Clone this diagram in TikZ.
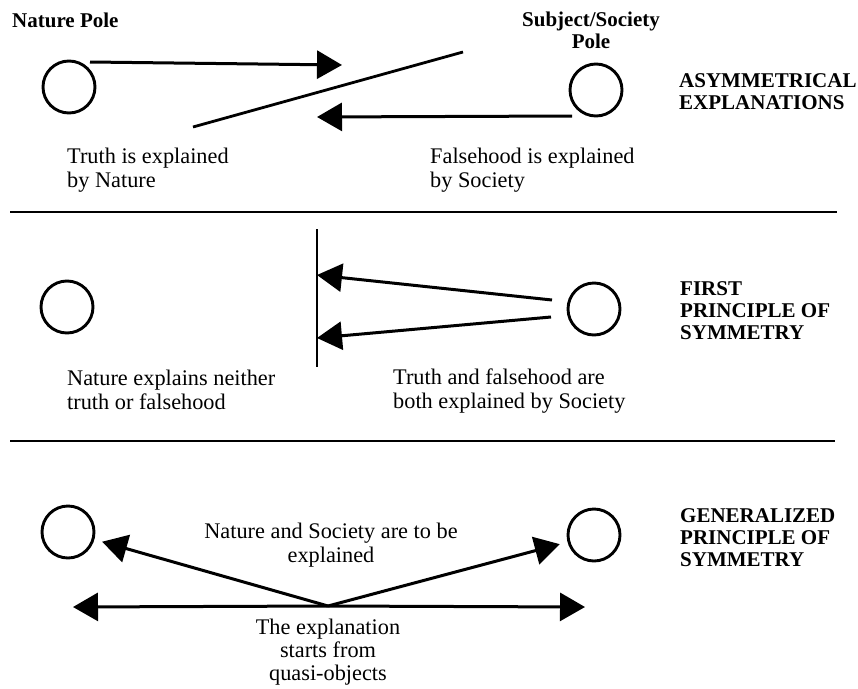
\documentclass[tikz,border=0pt]{standalone}
\usepackage{fontspec}
\setmainfont{Liberation Serif}
\usetikzlibrary{arrows.meta}

\begin{document}
\begin{tikzpicture}[x=1pt, y=-1pt,
  pole/.style={circle, draw, line width=2.9pt, minimum size=52pt, inner sep=0pt},
  arr/.style={line width=3pt, -{Triangle[length=25pt, width=28pt]}},
  lab/.style={inner sep=0pt, align=left, font=\fontsize{22.3}{24}\selectfont},
  head/.style={inner sep=0pt, align=left, font=\fontsize{21}{22}\selectfont\bfseries}]
\useasboundingbox (0,0) rectangle (858,688);

%asymmetrical explanations
\node[head, anchor=west] (natpole) at (12,20) {Nature Pole};
\node[head, align=center] (socpole) at (591,30) {Subject/Society\\Pole};
\node[pole] (n1) at (69,87) {};
\node[pole] (s1) at (596,90) {};
\coordinate (a1) at (90,62);
\coordinate (b1) at (342,65);
\coordinate (a2) at (572,116);
\coordinate (b2) at (317,117);
\draw[arr] (a1) -- (b1);
\draw[arr] (a2) -- (b2);
\draw[line width=2.8pt] (193,127) -- (463,52);
\node[lab, anchor=west] (t1) at (67,170) {Truth is explained\\by Nature};
\node[lab, anchor=west] (f1) at (430,170) {Falsehood is explained\\by Society};
\node[head, anchor=west] (h1) at (679,92) {ASYMMETRICAL\\EXPLANATIONS};
\draw[line width=2.2pt] (10,212) -- (837,212);

%first principle
\node[pole] (n2) at (67,307) {};
\node[pole] (s2) at (594,309) {};
\coordinate (a3) at (552,300);
\coordinate (b3) at (317,275);
\coordinate (a4) at (551,317);
\coordinate (b4) at (317,338);
\draw[line width=1.9pt] (317,229) -- (317,367);
\draw[arr] (a3) -- (b3);
\draw[arr] (a4) -- (b4);
\node[lab, anchor=west] (t2) at (67,390) {Nature explains neither\\truth or falsehood};
\node[lab, anchor=west] (f2) at (393,391) {Truth and falsehood are\\both explained by Society};
\node[head, anchor=west] (h2) at (680,311) {FIRST\\PRINCIPLE OF\\SYMMETRY};
\draw[line width=2.2pt] (10,441) -- (835,441);

%generalized principle
\node[pole] (n3) at (68,532) {};
\node[pole] (s3) at (594,535) {};
\coordinate (qo) at (328,606);
\coordinate (l3) at (73,607);
\coordinate (r3) at (585,607);
\draw[arr] (qo) -- (l3);
\draw[arr] (qo) -- (r3);
\draw[arr, shorten >=8pt] (qo) -- (n3);
\draw[arr, shorten >=8pt] (qo) -- (s3);
\node[lab, align=center] (t3) at (331,545) {Nature and Society are to be\\explained};
\node[lab, align=center, font=\fontsize{22.3}{23}\selectfont] (f3) at (328,652) {The explanation\\starts from\\quasi-objects};
\node[head, anchor=west] (h3) at (680,538) {GENERALIZED\\PRINCIPLE OF\\SYMMETRY};

\end{tikzpicture}
\end{document}
